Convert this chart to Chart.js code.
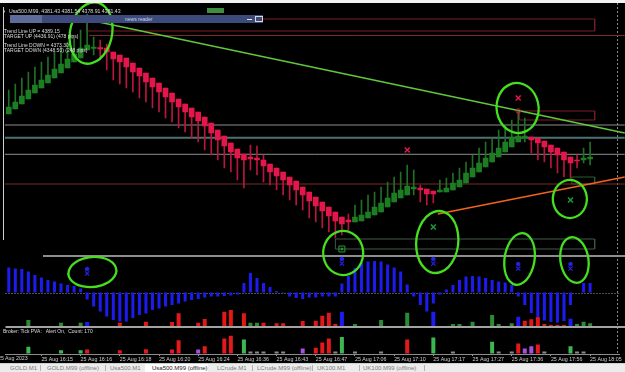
<!DOCTYPE html>
<html>
<head>
<meta charset="utf-8">
<title>Usa500.M99 M1</title>
<script src="https://cdn.jsdelivr.net/npm/chart.js@4.4.1/dist/chart.umd.min.js"></script>
<style>
  html, body { margin: 0; padding: 0; background: #000; }
  body { width: 625px; height: 372px; overflow: hidden; position: relative; font-family: 'Liberation Sans', Arial, sans-serif; }
  #chart { position: absolute; left: 0; top: 0; z-index: 1; }
  .txt { position: absolute; z-index: 3; white-space: nowrap; color: #dedede; font-size: 5px; line-height: 5px; }
  #topbar { position: absolute; left: 0; top: 0; width: 625px; height: 3px; background: #f2f2f2; z-index: 3; }
  #badge { position: absolute; left: 207px; top: 8px; width: 17px; height: 5px; background: #3f8d3f; z-index: 3; }
  #news { position: absolute; left: 10px; top: 15px; width: 253px; height: 8px; background: #3d4b7c; z-index: 2; }
  #news .left { position: absolute; left: 0; top: 0; width: 32px; height: 8px; background: #5d6c9a; }
  #news .lbl { position: absolute; left: 115px; top: 1.5px; font-size: 5px; line-height: 5px; color: #c9d1ea; white-space: nowrap; }
  #news .min { position: absolute; left: 237px; top: 4px; width: 5px; height: 1px; background: #e8e8e8; }
  #news .max { position: absolute; left: 245px; top: 1px; width: 6px; height: 4px; border: 1px solid #d8d8d8; }
  #tabs { position: absolute; left: 0; top: 363px; width: 625px; height: 9px; background: #ececec; border-top: 1px solid #cfcfcf; box-sizing: border-box; z-index: 3; font-size: 6px; line-height: 8px; color: #7a7a7a; }
  #tabs span { position: absolute; top: 0; white-space: nowrap; }
  #tabs .sep { width: 1px; height: 6px; top: 1px; background: #b3b3b3; }
  #tabs .on { left: 145px; width: 63px; height: 8px; background: #fff; }
</style>
</head>
<body>
<div id="topbar"></div>
<canvas id="chart" width="625" height="363"></canvas>

<div class="txt" style="left:2px;top:9px;font-size:4px;">&#9660;</div>
<div class="txt" style="left:9px;top:9px;font-size:5.2px;">Usa500.M99, 4381.43 4381.54 4378.91 4381.43</div>
<div id="badge"></div>
<div id="news"><div class="left"></div><div class="lbl">news reader</div><div class="min"></div><div class="max"></div></div>
<div class="txt" style="left:4px;top:29.3px;">Trend Line UP = 4389.15</div>
<div class="txt" style="left:4px;top:33.6px;">TARGET UP (4436.91) (478 pips)</div>
<div class="txt" style="left:4px;top:42.8px;">Trend Line DOWN = 4373.30</div>
<div class="txt" style="left:4px;top:47.5px;">TARGET DOWN (4348.50) (248 pips)</div>
<div class="txt" style="left:3px;top:329px;">Broker: Tick PVA:&nbsp;&nbsp; Alert On,&nbsp; Count: 170</div>
<div class="txt" style="left:-2px;top:356.3px;font-size:5.3px;color:#cfcfcf;">25 Aug 2023</div>

<div id="tabs">
  <span style="left:10px;">GOLD.M1</span>
  <span class="sep" style="left:40px;"></span>
  <span style="left:47px;">GOLD.M99 (offline)</span>
  <span class="sep" style="left:105px;"></span>
  <span style="left:110px;">Usa500.M1</span>
  <span class="on"></span>
  <span style="left:152px;color:#222;">Usa500.M99 (offline)</span>
  <span style="left:217px;">LCrude.M1</span>
  <span class="sep" style="left:252px;"></span>
  <span style="left:257px;">LCrude.M99 (offline)</span>
  <span class="sep" style="left:312px;"></span>
  <span style="left:317px;">UK100.M1</span>
  <span class="sep" style="left:359px;"></span>
  <span style="left:363px;">UK100.M99 (offline)</span>
  <span class="sep" style="left:424px;"></span>
</div>

<script>
// 90 one-minute bars plus the empty chart shift on the right
const SLOTS = 94;

// time axis labels, one every 6 bars
const tickBars = [5, 11, 17, 23, 29, 35, 41, 47, 53, 59, 65, 71, 77, 83, 89];
const tickTimes = ['25 Aug 16:15', '25 Aug 16:16', '25 Aug 16:18', '25 Aug 16:20', '25 Aug 16:24',
  '25 Aug 16:36', '25 Aug 16:43', '25 Aug 16:47', '25 Aug 17:06', '25 Aug 17:10',
  '25 Aug 17:17', '25 Aug 17:27', '25 Aug 17:36', '25 Aug 17:56', '25 Aug 18:05'];

// candles
const barOpen = [
  4381.3, 4381.8, 4382.3, 4382.8, 4383.4, 4383.9, 4384.4, 4384.9, 4385.4, 4385.9,
  4386.5, 4386.9, 4387.7, 4387.85, 4387.95, 4387.9, 4387.5, 4387.2, 4386.9, 4386.4,
  4385.9, 4385.4, 4384.9, 4384.4, 4383.9, 4383.4, 4382.8, 4382.3, 4381.9, 4381.5,
  4381.0, 4380.4, 4379.7, 4379.1, 4378.4, 4377.8, 4377.3, 4377.0, 4376.9, 4376.7,
  4376.3, 4375.9, 4375.5, 4375.0, 4374.6, 4374.0, 4373.5, 4373.0, 4372.5, 4372.0,
  4371.5, 4371.0, 4370.7, 4370.5, 4370.6, 4370.9, 4371.2, 4371.5, 4372.0, 4372.5,
  4372.9, 4373.2, 4373.8, 4373.9, 4373.8, 4373.6, 4373.5, 4373.5, 4373.7, 4374.0,
  4374.4, 4375.0, 4375.5, 4376.0, 4376.5, 4377.0, 4377.5, 4378.0, 4378.5, 4378.9,
  4379.0, 4378.9, 4378.6, 4378.2, 4377.9, 4377.5, 4377.0, 4376.7, 4376.7, 4376.8];
const barHigh = [
  4383.7, 4384.3, 4384.9, 4385.5, 4386.0, 4386.5, 4387.0, 4387.5, 4388.0, 4388.5,
  4388.9, 4389.7, 4391.3, 4389.0, 4388.7, 4388.3, 4387.5, 4387.2, 4386.9, 4386.4,
  4385.9, 4385.4, 4384.9, 4384.4, 4383.9, 4383.4, 4382.8, 4382.3, 4381.9, 4381.5,
  4381.0, 4380.4, 4379.7, 4379.1, 4378.4, 4377.8, 4377.3, 4378.2, 4378.1, 4377.2,
  4376.3, 4375.9, 4375.5, 4375.0, 4374.6, 4374.0, 4373.5, 4373.0, 4372.5, 4372.0,
  4371.5, 4371.0, 4371.3, 4372.2, 4372.7, 4373.2, 4373.5, 4374.0, 4374.5, 4375.0,
  4375.5, 4376.2, 4375.7, 4374.2, 4373.8, 4373.6, 4374.7, 4374.9, 4375.4, 4375.9,
  4376.5, 4377.2, 4377.9, 4378.5, 4378.9, 4379.7, 4380.2, 4380.7, 4381.6, 4380.9,
  4379.0, 4378.9, 4378.6, 4378.2, 4377.9, 4377.5, 4377.0, 4377.2, 4377.9, 4378.5];
const barLow = [
  4381.3, 4381.8, 4382.3, 4382.8, 4383.4, 4383.9, 4384.4, 4384.9, 4385.4, 4385.9,
  4386.5, 4386.9, 4387.7, 4387.2, 4386.7, 4385.7, 4384.7, 4384.3, 4383.9, 4383.5,
  4382.9, 4382.5, 4381.9, 4381.5, 4380.9, 4380.5, 4379.9, 4379.5, 4378.9, 4378.5,
  4377.7, 4377.2, 4376.7, 4375.9, 4375.5, 4374.7, 4373.9, 4375.7, 4375.2, 4374.5,
  4374.2, 4373.7, 4373.2, 4372.7, 4372.2, 4371.7, 4370.9, 4370.5, 4369.9, 4369.5,
  4368.9, 4369.2, 4369.7, 4370.5, 4370.6, 4370.9, 4371.2, 4371.5, 4372.0, 4372.5,
  4372.9, 4373.2, 4373.2, 4372.5, 4372.2, 4372.4, 4373.5, 4373.5, 4373.7, 4374.0,
  4374.4, 4375.0, 4375.5, 4376.0, 4376.5, 4377.0, 4377.5, 4378.0, 4378.5, 4378.5,
  4377.4, 4376.7, 4376.5, 4375.9, 4375.4, 4375.0, 4374.9, 4375.9, 4376.4, 4376.2];
const barClose = [
  4382.0, 4382.5, 4383.1, 4383.7, 4384.2, 4384.7, 4385.2, 4385.8, 4386.3, 4386.8,
  4387.3, 4387.9, 4388.2, 4388.0, 4387.8, 4387.5, 4386.8, 4386.5, 4386.0, 4385.5,
  4385.1, 4384.5, 4384.0, 4383.5, 4383.0, 4382.5, 4382.0, 4381.5, 4381.0, 4380.6,
  4380.1, 4379.4, 4378.7, 4378.1, 4377.5, 4376.9, 4376.7, 4376.8, 4376.7, 4376.1,
  4375.5, 4375.1, 4374.7, 4374.2, 4373.7, 4373.2, 4372.6, 4372.1, 4371.6, 4371.1,
  4370.6, 4370.3, 4370.5, 4371.0, 4371.2, 4371.5, 4372.0, 4372.4, 4372.9, 4373.4,
  4373.7, 4374.1, 4374.0, 4373.7, 4373.3, 4373.3, 4373.7, 4373.9, 4374.4, 4374.7,
  4375.4, 4375.9, 4376.4, 4376.9, 4377.4, 4377.9, 4378.5, 4379.0, 4379.1, 4379.1,
  4378.7, 4378.4, 4378.0, 4377.5, 4377.2, 4376.7, 4376.4, 4376.6, 4376.9, 4377.0];

// oscillator histogram
const oscValues = [
  25, 24, 23.5, 21, 17.5, 15, 12.5, 11, 9, 7.5,
  6.5, 4, -7, -14, -19, -24, -27.5, -29, -29, -25.5,
  -22.5, -21, -17.5, -16, -14, -12.5, -11, -9, -7.5, -6.5,
  -5, -4, -4, -3.5, -3, -2, 9.5, 19.5, 14.5, 9.5,
  5.5, 1.5, 0.5, -4, -5.5, -6.5, -5, -5, -4, -4,
  -4, 9, 16.5, 24.5, 29.5, 31, 31.5, 31, 28, 25,
  21, 8, -4, -12.5, -19, -11, -2, 3, 7.5, 12.5,
  16, 16.5, 16, 14.5, 12.5, 11, 10, 7.5, -4, -12.5,
  -20.5, -25.5, -28, -29.5, -30, -28.5, -12.5, 0, 9.5, 9.5];

// volume under the oscillator (g green, r red, b blue)
const oscVolume = [
  0, 0, 0, 60, 0, 0, 0, 0, 33, 0,
  0, 33, 40, 0, 0, 0, 0, 33, 0, 0,
  0, 43, 0, 0, 0, 40, 127, 0, 0, 33,
  70, 0, 0, 143, 160, 0, 127, 33, 33, 33,
  0, 27, 27, 0, 0, 50, 0, 53, 103, 133,
  20, 143, 0, 20, 0, 0, 0, 60, 0, 0,
  0, 133, 0, 0, 0, 143, 0, 0, 20, 20,
  0, 43, 0, 0, 110, 20, 0, 27, 93, 53,
  67, 87, 20, 10, 10, 10, 73, 20, 43, 27];
const oscVolType = [
  '-', '-', '-', 'g', '-', '-', '-', '-', 'g', '-',
  '-', 'g', 'b', '-', '-', '-', '-', 'r', '-', '-',
  '-', 'r', '-', '-', '-', 'r', 'r', '-', '-', 'r',
  'r', '-', '-', 'r', 'r', '-', 'r', 'g', 'g', 'r',
  '-', 'r', 'r', '-', '-', 'r', '-', 'r', 'r', 'r',
  'r', 'b', '-', 'g', '-', '-', '-', 'g', '-', '-',
  '-', 'g', '-', '-', '-', 'b', '-', '-', 'g', 'g',
  '-', 'g', '-', '-', 'g', 'g', '-', 'g', 'b', 'r',
  'r', 'r', 'r', 'r', 'r', 'r', 'b', 'g', 'g', 'g'];

// Tick PVA volume (g green, r red, p purple, n neutral)
const pvaVolume = [
  0, 0, 0, 67, 0, 0, 0, 0, 33, 0,
  0, 33, 40, 0, 0, 0, 0, 33, 0, 0,
  0, 43, 0, 0, 0, 40, 133, 0, 0, 40,
  73, 0, 0, 150, 177, 0, 140, 20, 20, 20,
  0, 20, 20, 0, 0, 50, 0, 57, 110, 150,
  20, 165, 0, 20, 0, 0, 0, 20, 0, 0,
  0, 140, 0, 0, 0, 160, 0, 0, 20, 0,
  0, 0, 0, 0, 117, 20, 0, 20, 100, 50,
  73, 90, 20, 0, 0, 0, 73, 20, 20, 0];
const pvaType = [
  '-', '-', '-', 'g', '-', '-', '-', '-', 'g', '-',
  '-', 'g', 'r', '-', '-', '-', '-', 'r', '-', '-',
  '-', 'r', '-', '-', '-', 'r', 'r', '-', '-', 'p',
  'r', '-', '-', 'r', 'r', '-', 'g', 'n', 'n', 'n',
  '-', 'n', 'n', '-', '-', 'p', '-', 'r', 'r', 'r',
  'n', 'g', '-', 'n', '-', '-', '-', 'n', '-', '-',
  '-', 'r', '-', '-', '-', 'g', '-', '-', 'n', '-',
  '-', '-', '-', '-', 'g', 'n', '-', 'n', 'r', 'p',
  'p', 'r', 'n', '-', '-', '-', 'g', 'n', 'n', '-'];

// horizontal price levels across the chart
const levelPrices = [4380.2, 4378.93, 4377.27, 4374.3];
const trendUpLevel = 4389.15;

// drawn objects: trend lines [bar, price] and zones
const greenTrend = [[12.3, 4390.7], [94.3, 4379.4]];
const orangeTrend = [[65.7, 4371.3], [94.3, 4375.0]];
const zoneFrom = [11.9, 78.2, 86.2, 50.0];
const zoneTo = [89.7, 89.7, 89.7, 89.7];
const zoneHigh = [4390.8, 4381.6, 4375.0, 4368.8];
const zoneLow = [4389.6, 4380.7, 4374.3, 4367.8];

// signal arrows
const sellBars = [61, 78];
const sellPrices = [4377.7, 4382.9];
const buyBars = [65, 86];
const buyPrices = [4370.0, 4372.7];
const alertBars = [12, 51, 65, 78, 86];
const alertLevels = [23.5, 33.5, 33.5, 28.5, 28.5];

const slotLabels = Array.from({ length: SLOTS }, (_, i) => {
  const k = tickBars.indexOf(i);
  return k < 0 ? '' : tickTimes[k];
});
const isUp = barClose.map((c, i) => c >= barOpen[i]);
const volColors = { g: '#2c8a34', r: '#e01818', b: '#1c1cf0', p: '#a64fe0', n: '#8a8a8a', '-': '#000' };
const pvaColors = { g: '#3cb853', r: '#e41a1a', b: '#1c1cf0', p: '#a64fe0', n: '#8a8a8a', '-': '#000' };

function hLine(y, from, to, color, width) {
  return {
    type: 'line', xAxisID: 'xL', yAxisID: 'yP', order: 20, clip: false,
    data: [{ x: from, y }, { x: to, y }],
    borderColor: color, borderWidth: width, pointRadius: 0
  };
}

const datasets = [];
levelPrices.forEach((p, k) => {
  const colors = ['#8e8e8e', '#4d7272', '#8e8e8e', '#7a2a2a'];
  datasets.push(hLine(p, -0.6, 94.3, colors[k], k === 1 ? 2 : 1));
});
datasets.push(hLine(trendUpLevel, 12.3, 94.3, '#7a2a2a', 1));

zoneFrom.forEach((f, k) => {
  const t = zoneTo[k], hi = zoneHigh[k], lo = zoneLow[k];
  const colors = ['#7a1e2a', '#7a1e2a', '#2d5c31', '#3e5b46'];
  datasets.push({
    type: 'line', xAxisID: 'xL', yAxisID: 'yP', order: 20,
    data: [{ x: f, y: hi }, { x: t, y: hi }, { x: t, y: lo }, { x: f, y: lo }, { x: f, y: hi }],
    borderColor: colors[k], borderWidth: 1, pointRadius: 0
  });
});

datasets.push({
  type: 'line', xAxisID: 'xL', yAxisID: 'yP', order: 19, clip: false,
  data: greenTrend.map(([x, y]) => ({ x, y })),
  borderColor: '#62c73c', borderWidth: 1.5, pointRadius: 0
});
datasets.push({
  type: 'line', xAxisID: 'xL', yAxisID: 'yP', order: 19, clip: false,
  data: orangeTrend.map(([x, y]) => ({ x, y })),
  borderColor: '#f0641e', borderWidth: 1.5, pointRadius: 0
});

// candles: wick + body as floating bars
datasets.push({
  type: 'bar', yAxisID: 'yP', order: 10, grouped: false, barThickness: 1,
  data: barLow.map((l, i) => [l, barHigh[i]]),
  backgroundColor: isUp.map(u => u ? '#1f6f25' : '#b8173d')
});
datasets.push({
  type: 'bar', yAxisID: 'yP', order: 9, grouped: false, barThickness: 5, minBarLength: 1,
  data: barOpen.map((o, i) => [Math.min(o, barClose[i]), Math.max(o, barClose[i])]),
  backgroundColor: isUp.map(u => u ? '#1c7d23' : '#e3174b')
});

// oscillator panel
datasets.push({
  type: 'bar', yAxisID: 'yO', order: 12, grouped: false, barThickness: 3,
  data: oscValues, backgroundColor: '#1c1cf0', inflateAmount: 0
});
datasets.push({
  type: 'bar', yAxisID: 'yV2', order: 11, grouped: false, barThickness: 4,
  data: oscVolume.map(v => v || null),
  backgroundColor: oscVolType.map(t => volColors[t]), inflateAmount: 0
});

// Tick PVA panel
datasets.push({
  type: 'bar', yAxisID: 'yV3', order: 11, grouped: false, barThickness: 4,
  data: pvaVolume.map(v => v || null),
  backgroundColor: pvaType.map(t => pvaColors[t]), inflateAmount: 0
});

// signals
datasets.push({
  type: 'scatter', xAxisID: 'xL', yAxisID: 'yP', order: 1,
  data: sellBars.map((x, k) => ({ x, y: sellPrices[k] })),
  pointStyle: 'crossRot', pointRadius: 3.5, borderColor: '#e4174d', borderWidth: 1.5
});
datasets.push({
  type: 'scatter', xAxisID: 'xL', yAxisID: 'yP', order: 1,
  data: [{ x: sellBars[1], y: barHigh[78] }],
  pointStyle: 'circle', pointRadius: 2.2, borderColor: '#e4174d', backgroundColor: 'rgba(0,0,0,0)', borderWidth: 1
});
datasets.push({
  type: 'scatter', xAxisID: 'xL', yAxisID: 'yP', order: 1,
  data: buyBars.map((x, k) => ({ x, y: buyPrices[k] })),
  pointStyle: 'crossRot', pointRadius: 3.5, borderColor: '#1f9a3a', borderWidth: 1.5
});
datasets.push({
  type: 'scatter', xAxisID: 'xL', yAxisID: 'yP', order: 1,
  data: [{ x: 51, y: 4367.8 }],
  pointStyle: 'rect', pointRadius: 4.2, borderColor: '#2a9a3a', backgroundColor: 'rgba(0,0,0,0)', borderWidth: 1
});
datasets.push({
  type: 'scatter', xAxisID: 'xL', yAxisID: 'yP', order: 1,
  data: [{ x: 51, y: 4367.8 }],
  pointStyle: 'circle', pointRadius: 1, borderColor: '#2a9a3a', backgroundColor: '#2a9a3a'
});
// alert "skull" icons in the oscillator panel
datasets.push({
  type: 'scatter', xAxisID: 'xL', yAxisID: 'yO', order: 1,
  data: alertBars.map((x, k) => ({ x, y: alertLevels[k] })),
  pointStyle: 'circle', pointRadius: 1.8, borderColor: '#2323e6', backgroundColor: '#2323e6'
});
datasets.push({
  type: 'scatter', xAxisID: 'xL', yAxisID: 'yO', order: 1,
  data: alertBars.map((x, k) => ({ x, y: alertLevels[k] - 4.5 })),
  pointStyle: 'crossRot', pointRadius: 3, borderColor: '#2323e6', borderWidth: 1.2
});

// hand drawn marks on the screenshot, placed by bar / price
const handLoops = [
  { i: 12.6, p: 4389.4, rx: 21, ry: 31, rot: 0.2 },
  { i: 12.8, p: 4365.5, rx: 24, ry: 15, rot: -0.1 },
  { i: 51.2, p: 4367.4, rx: 20, ry: 22, rot: 0 },
  { i: 65.6, p: 4368.5, rx: 21, ry: 31, rot: 0.1 },
  { i: 77.9, p: 4381.9, rx: 21, ry: 25, rot: -0.1 },
  { i: 85.9, p: 4372.8, rx: 17, ry: 19, rot: 0 },
  { i: 78.2, p: 4366.8, rx: 15, ry: 26, rot: 0.15 },
  { i: 86.6, p: 4366.7, rx: 14, ry: 23, rot: -0.15 }
];

const decor = {
  id: 'decor',
  beforeDatasetsDraw(chart) {
    const { ctx, chartArea: a, scales } = chart;
    const W = chart.width;
    ctx.save();
    // left frame
    ctx.strokeStyle = '#cfcfcf';
    ctx.lineWidth = 1;
    ctx.beginPath(); ctx.moveTo(3.5, a.top); ctx.lineTo(3.5, 240); ctx.stroke();
    // price / oscillator split
    const s1 = scales.yO.getPixelForValue(36.5);
    ctx.strokeStyle = '#bdbdbd'; ctx.lineWidth = 1.5;
    ctx.beginPath(); ctx.moveTo(43, s1); ctx.lineTo(W, s1); ctx.stroke();
    // zero line
    const z = Math.round(scales.yO.getPixelForValue(0)) + 0.5;
    ctx.strokeStyle = '#9a9a9a'; ctx.lineWidth = 1; ctx.setLineDash([1, 2]);
    ctx.beginPath(); ctx.moveTo(a.left, z); ctx.lineTo(a.right, z); ctx.stroke();
    // right shift marker
    const xs = scales.xL.getPixelForValue(93.2);
    ctx.strokeStyle = '#8a8a8a'; ctx.setLineDash([2, 2]);
    ctx.beginPath(); ctx.moveTo(xs, 3); ctx.lineTo(xs, a.bottom); ctx.stroke();
    ctx.setLineDash([]);
    ctx.restore();
  },
  afterDatasetsDraw(chart) {
    const { ctx, scales } = chart;
    const W = chart.width;
    ctx.save();
    // oscillator / PVA split
    const s2 = scales.yV2.getPixelForValue(0) + 1;
    ctx.strokeStyle = '#a3a3a3'; ctx.lineWidth = 2;
    ctx.beginPath(); ctx.moveTo(chart.chartArea.left, s2); ctx.lineTo(W, s2); ctx.stroke();
    // green hand loops
    ctx.strokeStyle = '#45df1f'; ctx.lineWidth = 2.3; ctx.lineCap = 'round';
    handLoops.forEach(m => {
      const x = scales.xL.getPixelForValue(m.i);
      const y = scales.yP.getPixelForValue(m.p);
      ctx.beginPath();
      ctx.ellipse(x, y, m.rx, m.ry, m.rot, -1.9, 4.5);
      ctx.stroke();
    });
    ctx.restore();
  }
};

Chart.defaults.font.family = "'Liberation Sans', Arial, sans-serif";

new Chart(document.getElementById('chart'), {
  type: 'bar',
  data: { labels: slotLabels, datasets },
  options: {
    responsive: false,
    devicePixelRatio: 1,
    animation: false,
    events: [],
    layout: { padding: { left: 4, right: 5, top: 7, bottom: 0 } },
    plugins: { legend: { display: false }, tooltip: { enabled: false } },
    scales: {
      x: {
        type: 'category',
        offset: true,
        grid: {
          offset: false, drawOnChartArea: false, drawTicks: true, tickLength: 2,
          color: c => slotLabels[c.index] ? '#9a9a9a' : 'rgba(0,0,0,0)'
        },
        border: { display: true, color: '#8c8c8c' },
        ticks: {
          autoSkip: false, maxRotation: 0, minRotation: 0, align: 'start', padding: 0,
          color: '#cfcfcf', font: { size: 5.3 },
          callback: (v, i) => slotLabels[i]
        },
        afterFit: s => { s.height = 9; }
      },
      // plain bar-index axis for lines and markers (no category offset)
      xL: { type: 'linear', display: false, offset: false, min: -0.5, max: SLOTS - 0.5 },
      yP: { type: 'linear', display: false, min: 4357.3, max: 4392.0 },
      yO: { type: 'linear', display: false, min: -61.5, max: 285.5 },
      yV2: { type: 'linear', display: false, min: -280, max: 3190 },
      yV3: { type: 'linear', display: false, min: -5, max: 3465 }
    }
  },
  plugins: [decor]
});
</script>
</body>
</html>
